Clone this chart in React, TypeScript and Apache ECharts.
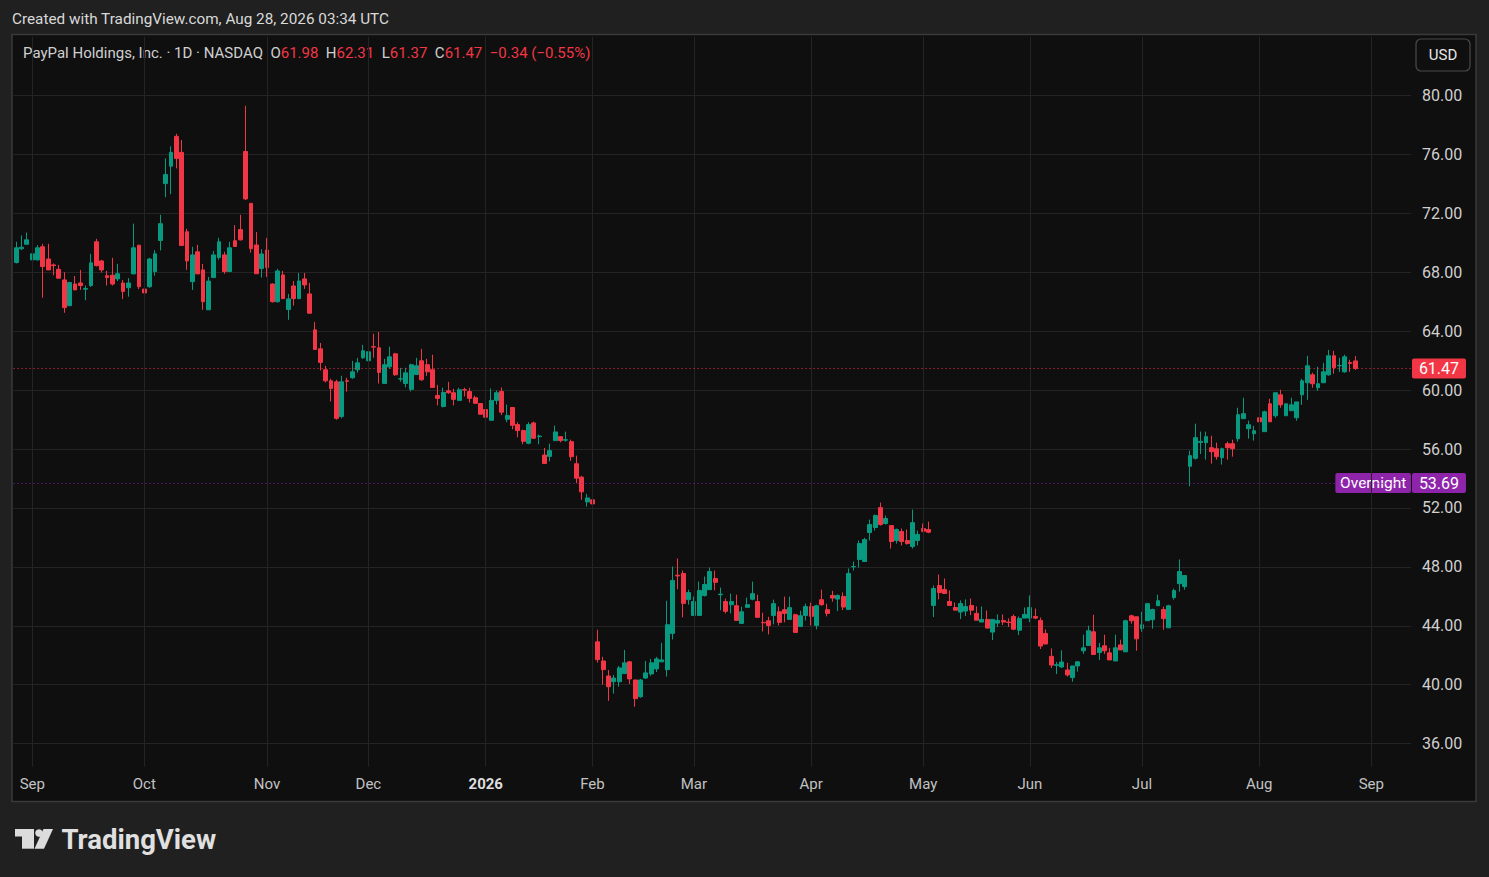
import React, { useEffect, useRef } from 'react';
import * as echarts from 'echarts';

// ---- Daily candles (PYPL, Aug 27 2025 .. Aug 27 2026) ----
const OPEN = [
  68.66, 69.6, 69.9, 68.84, 68.84, 69.73, 68.9, 68.5, 68.2, 67.48,
  65.73, 67.2, 67.27, 66.85, 67.1, 70.07, 68.77, 67.77, 67.8, 67.55,
  67.27, 66.95, 67.89, 69.84, 66.86, 67.02, 68.05, 70.16, 74.02, 75.2,
  77.23, 76.14, 70.75, 67.36, 69.39, 68.16, 65.45, 67.64, 69.0, 69.18,
  68.05, 70.14, 70.9, 76.2, 72.68, 69.85, 68.25, 69.51, 67.2, 66.0,
  67.82, 65.47, 67.07, 66.21, 67.55, 66.53, 64.09, 62.8, 61.38, 60.63,
  60.56, 58.2, 60.63, 60.84, 61.38, 62.19, 61.99, 62.95, 62.87, 60.45,
  61.58, 62.46, 60.75, 60.45, 60.05, 61.06, 61.99, 61.72, 61.38, 59.64,
  58.89, 59.95, 59.82, 59.3, 60.03, 59.9, 59.48, 59.09, 58.68, 57.95,
  59.3, 59.91, 58.02, 58.82, 57.66, 57.25, 56.39, 57.77, 56.84, 55.59,
  55.5, 56.57, 56.84, 56.6, 56.5, 55.0, 54.09, 52.41, 52.55, 42.91,
  41.61, 40.59, 40.2, 40.2, 40.75, 41.55, 40.32, 39.18, 40.45, 40.73,
  41.07, 41.55, 41.02, 43.48, 47.43, 47.55, 45.77, 44.7, 44.7, 46.05,
  46.45, 47.2, 46.11, 45.64, 45.43, 45.36, 44.16, 45.25, 45.8, 45.64,
  44.23, 44.34, 44.7, 44.95, 45.09, 44.43, 44.75, 43.95, 44.7, 45.3,
  44.02, 45.77, 45.09, 46.06, 45.81, 45.99, 45.11, 48.0, 48.5, 48.36,
  50.33, 50.67, 52.02, 50.94, 50.8, 49.79, 50.4, 49.79, 49.38, 49.79,
  50.6, 50.53, 45.38, 46.73, 46.46, 45.65, 45.24, 44.93, 45.0, 45.38,
  44.84, 44.25, 44.43, 43.57, 44.18, 44.36, 44.25, 44.63, 43.7, 44.52,
  44.52, 44.63, 44.36, 43.48, 41.92, 41.31, 41.2, 41.0, 40.48, 41.27,
  42.3, 42.66, 43.59, 42.18, 42.64, 42.16, 41.61, 42.7, 42.23, 44.68,
  44.61, 43.8, 44.34, 44.41, 45.36, 45.1, 43.86, 45.91, 46.86, 46.66,
  54.83, 55.37, 56.45, 56.43, 56.09, 56.02, 55.41, 56.36, 56.36, 56.7,
  58.06, 57.38, 57.04, 58.12, 57.18, 59.07, 58.26, 59.68, 58.26, 58.6,
  58.12, 59.68, 60.5, 61.04, 60.16, 60.5, 61.04, 62.33, 61.65, 61.24,
  61.87, 61.98,
];
const HIGH = [
  70.07, 70.5, 70.7, 69.4, 69.84, 69.93, 69.93, 68.6, 68.5, 68.0,
  67.36, 67.75, 68.16, 67.1, 69.25, 70.27, 68.84, 68.09, 68.98, 68.57,
  67.48, 67.6, 71.3, 69.84, 67.8, 68.98, 69.5, 71.9, 75.73, 76.55,
  77.4, 76.98, 70.95, 69.73, 69.86, 68.57, 67.68, 69.45, 70.34, 69.39,
  70.07, 71.2, 71.9, 79.3, 72.7, 70.73, 69.56, 70.33, 67.25, 68.23,
  68.09, 66.53, 67.41, 67.95, 67.95, 67.28, 64.63, 63.2, 61.65, 60.77,
  60.7, 60.97, 60.84, 61.99, 62.19, 63.07, 63.2, 63.82, 63.95, 62.12,
  62.94, 62.53, 61.51, 61.51, 61.79, 62.19, 62.8, 62.12, 62.4, 60.36,
  60.16, 60.56, 60.09, 60.16, 60.16, 60.16, 59.62, 59.1, 58.82, 60.11,
  59.98, 60.18, 59.02, 58.82, 57.82, 57.32, 57.82, 57.86, 56.98, 56.07,
  56.36, 57.59, 56.84, 57.18, 56.64, 55.55, 54.18, 52.95, 53.45, 43.73,
  41.89, 41.0, 40.66, 41.27, 42.36, 41.61, 40.32, 40.39, 41.61, 41.75,
  41.89, 42.84, 45.7, 48.02, 48.57, 47.75, 46.45, 45.98, 47.0, 47.34,
  47.95, 47.75, 46.59, 45.84, 46.18, 46.11, 45.3, 45.91, 47.0, 46.11,
  44.89, 44.61, 45.77, 45.3, 45.98, 45.98, 44.82, 45.02, 45.5, 45.57,
  45.43, 46.45, 45.5, 46.37, 46.12, 46.26, 47.89, 48.36, 49.79, 49.97,
  51.21, 51.55, 52.36, 51.48, 50.8, 50.6, 50.6, 50.53, 51.89, 50.46,
  50.94, 51.07, 46.73, 47.48, 47.21, 46.4, 45.58, 45.72, 45.79, 45.85,
  45.31, 45.31, 45.04, 44.43, 44.77, 44.77, 44.5, 44.77, 44.63, 45.24,
  46.06, 45.17, 44.56, 43.75, 42.46, 41.54, 42.33, 41.48, 41.27, 41.61,
  43.39, 44.0, 44.75, 42.84, 43.39, 42.5, 43.39, 43.05, 44.41, 44.75,
  44.61, 44.95, 45.5, 45.16, 46.11, 45.3, 45.43, 46.52, 48.5, 47.41,
  55.89, 57.72, 57.18, 57.18, 56.9, 56.43, 56.09, 56.5, 56.63, 58.8,
  59.48, 57.92, 57.58, 58.26, 58.6, 59.41, 59.82, 60.02, 59.07, 59.48,
  59.2, 60.77, 62.33, 61.18, 61.58, 61.85, 62.73, 62.67, 62.19, 62.4,
  62.06, 62.31,
];
const LOW = [
  68.6, 69.5, 69.9, 68.16, 68.8, 66.27, 68.16, 67.8, 67.55, 65.25,
  65.7, 66.8, 66.8, 66.1, 67.0, 68.4, 67.98, 67.1, 67.1, 67.4,
  66.18, 66.34, 67.89, 66.86, 66.18, 66.95, 67.77, 69.48, 73.1, 73.3,
  75.05, 69.82, 68.16, 66.8, 67.89, 65.45, 65.45, 67.64, 68.84, 67.9,
  68.05, 69.75, 70.16, 72.9, 69.33, 67.9, 67.64, 67.68, 65.94, 65.94,
  66.21, 64.77, 65.74, 66.21, 66.87, 65.18, 62.76, 61.33, 60.52, 59.23,
  57.99, 58.08, 59.9, 60.77, 61.18, 62.12, 61.85, 62.2, 60.45, 60.45,
  61.44, 60.97, 60.57, 60.18, 59.91, 61.06, 60.63, 60.97, 60.18, 58.96,
  58.82, 59.75, 58.96, 59.3, 59.57, 59.16, 59.1, 58.36, 57.68, 57.95,
  59.02, 58.3, 57.82, 57.34, 56.8, 56.32, 56.32, 56.68, 56.32, 55.02,
  55.16, 56.57, 56.45, 56.5, 55.2, 53.68, 52.55, 52.09, 52.27, 41.5,
  40.0, 38.9, 39.39, 39.86, 40.75, 40.05, 38.5, 39.11, 40.39, 40.61,
  40.86, 41.55, 40.55, 43.07, 46.48, 44.57, 45.43, 44.7, 44.7, 45.98,
  46.45, 46.41, 45.05, 44.84, 44.84, 44.36, 44.16, 45.25, 45.73, 44.57,
  43.61, 43.41, 44.09, 44.02, 44.23, 44.43, 43.55, 43.95, 44.36, 44.02,
  43.75, 45.36, 44.64, 45.63, 45.0, 45.06, 45.11, 47.75, 47.95, 48.36,
  49.79, 50.46, 50.8, 50.87, 49.24, 49.58, 49.45, 49.51, 49.24, 49.45,
  50.35, 50.28, 44.59, 45.79, 46.19, 45.38, 45.06, 44.45, 44.66, 44.72,
  44.38, 44.25, 43.84, 43.03, 43.91, 44.05, 43.91, 43.7, 43.37, 44.52,
  44.25, 44.45, 42.42, 42.76, 41.13, 40.72, 41.13, 40.55, 40.2, 40.89,
  42.09, 42.66, 42.05, 41.68, 42.09, 41.68, 41.61, 42.36, 42.23, 44.14,
  42.3, 43.59, 44.34, 43.8, 45.36, 43.73, 43.86, 45.77, 46.32, 46.45,
  53.47, 55.28, 55.66, 55.28, 55.0, 55.28, 54.94, 55.28, 55.48, 56.5,
  58.06, 56.7, 56.57, 57.38, 57.18, 57.85, 58.12, 58.8, 58.26, 58.6,
  57.92, 59.0, 59.34, 60.16, 59.95, 60.5, 60.97, 61.11, 61.24, 61.18,
  61.24, 61.37,
];
const CLOSE = [
  69.66, 69.7, 70.2, 69.25, 69.66, 68.39, 68.16, 68.45, 67.6, 65.6,
  67.3, 66.8, 67.1, 66.9, 68.64, 68.45, 68.16, 67.64, 67.2, 67.9,
  66.7, 67.27, 69.66, 67.02, 66.6, 68.9, 69.25, 71.3, 74.64, 76.14,
  75.73, 69.82, 68.77, 69.18, 67.89, 66.0, 67.4, 69.18, 70.07, 68.05,
  69.66, 69.75, 70.2, 72.98, 69.6, 67.9, 69.24, 68.32, 66.0, 68.09,
  66.21, 66.19, 66.21, 67.41, 67.14, 65.22, 62.76, 61.88, 60.63, 60.11,
  58.08, 60.56, 60.6, 61.24, 61.85, 62.67, 62.6, 62.92, 61.2, 61.72,
  62.26, 61.04, 60.77, 61.17, 61.72, 61.65, 60.7, 61.24, 60.18, 59.44,
  59.84, 59.82, 59.37, 60.02, 60.0, 59.44, 59.1, 58.36, 58.16, 59.3,
  59.82, 58.5, 58.27, 57.61, 57.25, 56.52, 57.66, 56.73, 56.88, 55.02,
  55.89, 57.16, 56.57, 56.63, 55.48, 54.02, 53.09, 52.68, 52.27, 41.7,
  41.02, 39.86, 40.45, 41.14, 41.48, 40.39, 39.05, 40.32, 40.8, 41.48,
  41.75, 41.68, 44.07, 47.07, 47.38, 45.52, 46.25, 45.64, 46.39, 46.8,
  47.68, 46.95, 46.15, 44.98, 45.64, 44.36, 44.95, 45.43, 46.18, 44.57,
  44.2, 44.02, 45.5, 44.23, 44.84, 45.23, 43.55, 44.68, 45.3, 44.64,
  45.36, 45.43, 44.84, 45.88, 46.06, 45.27, 47.55, 48.02, 49.58, 49.85,
  50.87, 51.48, 50.87, 51.28, 49.72, 50.53, 49.72, 49.58, 51.0, 50.2,
  50.42, 50.35, 46.53, 46.26, 46.19, 45.38, 45.06, 45.51, 45.31, 45.06,
  44.38, 44.43, 43.84, 44.43, 44.36, 44.25, 44.22, 43.77, 44.5, 44.77,
  45.24, 44.52, 42.62, 42.76, 41.33, 41.35, 41.54, 40.66, 41.27, 41.55,
  42.5, 43.66, 42.05, 42.5, 42.3, 41.68, 42.5, 42.36, 44.34, 44.34,
  43.11, 44.07, 45.5, 45.1, 45.7, 44.48, 45.36, 46.39, 47.68, 47.41,
  55.55, 56.77, 56.52, 56.84, 55.82, 55.48, 56.02, 56.09, 56.02, 58.33,
  58.4, 57.65, 57.24, 57.85, 58.53, 57.85, 59.82, 59.0, 59.07, 59.0,
  59.2, 60.63, 61.65, 60.43, 60.43, 61.24, 62.33, 61.51, 61.67, 62.26,
  61.81, 61.47,
];

// ---- Calendar (NYSE trading days) ----
const FIRST_DATE = '2025-08-27';
const CATEGORY_COUNT = 262; // 252 sessions + empty space on the right
const HOLIDAYS = [
  '2025-09-01', '2025-11-27', '2025-12-25', '2026-01-01', '2026-01-19',
  '2026-02-16', '2026-04-03', '2026-05-25', '2026-06-19', '2026-07-03', '2026-09-07',
];
const MONTHS = ['Jan', 'Feb', 'Mar', 'Apr', 'May', 'Jun', 'Jul', 'Aug', 'Sep', 'Oct', 'Nov', 'Dec'];

// ---- Price scale ----
const Y_MIN = 32;
const Y_MAX = 84;
const Y_STEP = 4;
const PANE_BOTTOM_PRICE = 34.44;
const OVERNIGHT_PRICE = 53.69;

const UP = '#089981';
const DOWN = '#f23645';
const PURPLE = '#8e24aa';
const GRID = '#242424';
const FONT = 'Roboto, "Noto Sans", "DejaVu Sans", sans-serif';

function buildDates(): string[] {
  const out: string[] = [];
  const d = new Date(FIRST_DATE + 'T00:00:00Z');
  while (out.length < CATEGORY_COUNT) {
    const wd = d.getUTCDay();
    const s = d.toISOString().slice(0, 10);
    if (wd !== 0 && wd !== 6 && !HOLIDAYS.includes(s)) out.push(s);
    d.setUTCDate(d.getUTCDate() + 1);
  }
  return out;
}

const fmtSigned = (v: number, digits: number) =>
  (v < 0 ? '\u2212' : '+') + Math.abs(v).toFixed(digits);

export default function App() {
  const ref = useRef<HTMLDivElement>(null);

  useEffect(() => {
    if (!ref.current) return;
    const chart = echarts.init(ref.current, null, { renderer: 'svg' });
    const dates = buildDates();
    const monthStarts: number[] = [];
    for (let i = 1; i < dates.length; i++) {
      if (dates[i].slice(5, 7) !== dates[i - 1].slice(5, 7)) monthStarts.push(i);
    }
    const startSet = new Set(monthStarts);
    const candles = OPEN.map((o, i) => [o, CLOSE[i], LOW[i], HIGH[i]]);
    const n = CLOSE.length;
    const last = { o: OPEN[n - 1], h: HIGH[n - 1], l: LOW[n - 1], c: CLOSE[n - 1] };
    const chg = last.c - CLOSE[n - 2];
    const pct = (chg / CLOSE[n - 2]) * 100;

    chart.setOption({
      animation: false,
      backgroundColor: '#0f0f0f',
      grid: { left: 13.6, top: 36.6, width: CATEGORY_COUNT * 5.335, height: 765.9, containLabel: false },
      xAxis: {
        type: 'category',
        data: dates,
        boundaryGap: true,
        offset: -34,
        axisLine: { show: false },
        axisTick: { show: false },
        splitLine: { show: false },
        axisLabel: {
          interval: (i: number) => startSet.has(i),
          formatter: (v: string) => {
            const m = +v.slice(5, 7);
            return m === 1 ? `{y|${v.slice(0, 4)}}` : MONTHS[m - 1];
          },
          color: '#c2c2c2',
          fontSize: 15,
          fontFamily: FONT,
          margin: 8,
          rich: { y: { fontWeight: 'bold', color: '#dedede', fontSize: 15, fontFamily: FONT } },
        },
      },
      yAxis: {
        type: 'value',
        position: 'right',
        min: Y_MIN,
        max: Y_MAX,
        interval: Y_STEP,
        axisLine: { show: false },
        axisTick: { show: false },
        splitLine: { show: true, showMinLine: false, showMaxLine: false, lineStyle: { color: GRID, width: 1 } },
        axisLabel: {
          showMinLabel: false,
          showMaxLabel: false,
          formatter: (v: number) => v.toFixed(2),
          color: '#d0d0d0',
          fontSize: 16,
          fontFamily: FONT,
          margin: 10.6,
        },
      },
      series: [
        {
          type: 'line',
          data: [],
          z: 1,
          silent: true,
          markLine: {
            silent: true,
            symbol: ['none', 'none'],
            label: { show: false },
            lineStyle: { color: GRID, width: 1, type: 'solid' },
            data: monthStarts.map((i) => [
              { coord: [dates[i], PANE_BOTTOM_PRICE] },
              { coord: [dates[i], Y_MAX] },
            ]),
          },
        },
        {
          type: 'candlestick',
          data: candles,
          barWidth: 4.4,
          z: 3,
          itemStyle: { color: UP, color0: DOWN, borderColor: UP, borderColor0: DOWN, borderWidth: 1 },
          markLine: {
            silent: true,
            symbol: ['none', 'none'],
            label: { show: false },
            data: [
              { yAxis: last.c, lineStyle: { color: DOWN, type: [1, 3], width: 1 } },
              { yAxis: OVERNIGHT_PRICE, lineStyle: { color: PURPLE, type: [1, 3], width: 1 } },
            ],
          },
        },
      ],
    });

    const yLast = chart.convertToPixel({ yAxisIndex: 0 }, last.c) as number;
    const yOn = chart.convertToPixel({ yAxisIndex: 0 }, OVERNIGHT_PRICE) as number;
    const gridRight = 13.6 + CATEGORY_COUNT * 5.335;
    const boxH = 20;
    const txt = (x: number, y: number, text: string, extra: any = {}) => ({
      type: 'text',
      x,
      y,
      silent: true,
      style: { text, fill: '#d4d4d4', fontSize: 15, fontFamily: FONT, verticalAlign: 'middle', align: 'left', ...extra },
    });
    const rect = (x: number, y: number, w: number, h: number, style: any, extra: any = {}) => ({
      type: 'rect',
      silent: true,
      shape: { x, y, width: w, height: h, r: extra.r || 0 },
      style,
    });
    const outer = { fill: '#202020' };
    const valColor = last.c < last.o ? DOWN : UP;
    const chgColor = chg < 0 ? DOWN : UP;

    chart.setOption({
      graphic: [
        rect(0, 0, 1489, 34, outer),
        rect(0, 802, 1489, 75, outer),
        rect(0, 0, 12, 877, outer),
        rect(1476, 0, 13, 877, outer),
        rect(12, 34.5, 1464, 767, { fill: 'none', stroke: '#3a3a3a', lineWidth: 1.5 }),
        txt(12, 19, 'Created with TradingView.com, Aug 28, 2026 03:34 UTC', { fill: '#d9d9d9', fontSize: 15.3 }),
        {
          type: 'text',
          x: 23,
          y: 53,
          silent: true,
          style: {
            text:
              `{n|PayPal Holdings, Inc. · 1D · NASDAQ}  {g|O}{v|${last.o.toFixed(2)}}  {g|H}{v|${last.h.toFixed(2)}}  ` +
              `{g|L}{v|${last.l.toFixed(2)}}  {g|C}{v|${last.c.toFixed(2)}}  {c|${fmtSigned(chg, 2)} (${fmtSigned(pct, 2)}%)}`,
            fill: '#cfcfcf',
            fontSize: 15,
            fontFamily: FONT,
            verticalAlign: 'middle',
            rich: {
              n: { fill: '#d0d0d0', fontSize: 15, fontFamily: FONT },
              g: { fill: '#d0d0d0', fontSize: 15, fontFamily: FONT },
              v: { fill: valColor, fontSize: 15, fontFamily: FONT },
              c: { fill: chgColor, fontSize: 15, fontFamily: FONT },
            },
          },
        },
        rect(1416, 39, 54, 32, { fill: '#0f0f0f', stroke: '#4a4a4a', lineWidth: 1.2 }, { r: 5 }),
        txt(1443, 55, 'USD', { fill: '#e6e6e6', align: 'center' }),
        rect(gridRight + 0.6, yLast - boxH / 2, 54, boxH, { fill: DOWN }, { r: 2 }),
        txt(gridRight + 0.6 + 27, yLast, last.c.toFixed(2), { fill: '#ffffff', align: 'center', fontSize: 16 }),
        rect(gridRight - 76, yOn - boxH / 2, 75.6, boxH, { fill: PURPLE }, { r: 2 }),
        txt(gridRight - 38.2, yOn, 'Overnight', { fill: '#ffffff', align: 'center', fontSize: 15.5 }),
        rect(gridRight + 0.6, yOn - boxH / 2, 54, boxH, { fill: PURPLE }, { r: 2 }),
        txt(gridRight + 0.6 + 27, yOn, OVERNIGHT_PRICE.toFixed(2), { fill: '#ffffff', align: 'center', fontSize: 16 }),
        // TradingView logo
        rect(15, 829, 19, 7.5, { fill: '#dcdcdc' }),
        rect(22, 829, 12, 19.7, { fill: '#dcdcdc' }),
        { type: 'circle', silent: true, shape: { cx: 39, cy: 833, r: 3.8 }, style: { fill: '#dcdcdc' } },
        {
          type: 'polygon',
          silent: true,
          shape: { points: [[43.5, 829], [53, 829], [44, 848.7], [34.5, 848.7]] },
          style: { fill: '#dcdcdc' },
        },
        txt(61.5, 839, 'TradingView', { fill: '#e0e0e0', fontSize: 27.5, fontWeight: 'bold' }),
      ],
    });

    return () => chart.dispose();
  }, []);

  return (
    <div
      ref={ref}
      style={{ position: 'absolute', left: 0, top: 0, width: 1489, height: 877 }}
    />
  );
}
